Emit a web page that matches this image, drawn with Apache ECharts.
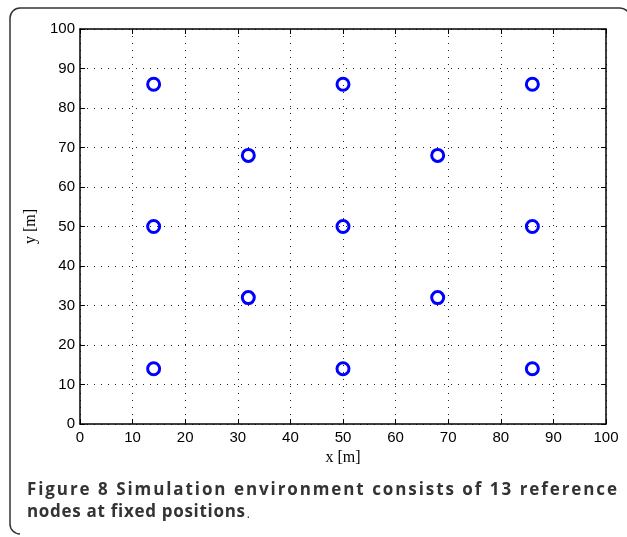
<!DOCTYPE html>
<html>
<head>
<meta charset="utf-8">
<script src="https://cdn.jsdelivr.net/npm/echarts@6/dist/echarts.min.js"></script>
<style>
  html, body { margin: 0; padding: 0; background: #fff; }
  #main { width: 627px; height: 537px; }
</style>
</head>
<body>
<div id="main"></div>
<script>
// reference node positions [m]
var nodeX = [14, 50, 86, 32, 68, 14, 50, 86, 32, 68, 14, 50, 86];
var nodeY = [86, 86, 86, 68, 68, 50, 50, 50, 32, 32, 14, 14, 14];
var tickLabels = [0, 10, 20, 30, 40, 50, 60, 70, 80, 90, 100];

var nodes = nodeX.map(function (x, i) { return [x, nodeY[i]]; });

var chart = echarts.init(document.getElementById('main'));

// caption: two lines, the first justified between the frame margins
var captionLines = [
  { words: ['Figure', '8', 'Simulation', 'environment', 'consists', 'of', '13', 'reference'], y: 490, justify: true, tracking: 1.9 },
  { words: ['nodes', 'at', 'fixed', 'positions'], y: 512, justify: false, tracking: 0.7 }
];
var capLeft = 27, capRight = 617, capSize = 17;

var ctx = document.createElement('canvas').getContext('2d');
ctx.font = 'bold ' + capSize + 'px "Open Sans"';
var captionEls = [];
var lastEnd = 0;
captionLines.forEach(function (ln) {
  var tr = ln.tracking;
  var widths = ln.words.map(function (w) {
    return w.split('').reduce(function (s, ch) { return s + ctx.measureText(ch).width; }, 0) + tr * (w.length - 1);
  });
  var total = widths.reduce(function (a, b) { return a + b; }, 0);
  var gap = ln.justify ? (capRight - capLeft - total) / (ln.words.length - 1) : ctx.measureText(' ').width + tr * 2;
  var x = capLeft;
  ln.words.forEach(function (w) {
    w.split('').forEach(function (ch) {
      captionEls.push({
        type: 'text', x: x, y: ln.y, silent: true,
        style: {
          text: ch, fill: '#333', fontFamily: 'Open Sans', fontWeight: 'bold',
          fontSize: capSize, align: 'left', verticalAlign: 'middle'
        }
      });
      x += ctx.measureText(ch).width + tr;
    });
    x += gap - tr;
  });
  lastEnd = x - gap + tr;
});
captionEls.push({
  type: 'text', x: lastEnd + 1, y: captionLines[1].y + 3, silent: true,
  style: { text: '.', fill: '#333', fontFamily: 'Open Sans', fontSize: 12, align: 'left', verticalAlign: 'middle' }
});

var gridDots = { show: true, lineStyle: { color: '#222', width: 1, type: [1, 6] } };
var tickFmt = function (v) { return tickLabels.indexOf(v) >= 0 ? String(v) : ''; };
var frame = { stroke: '#333', lineWidth: 1.5, fill: null };

var option = {
  animation: false,
  grid: { left: 80, top: 29, right: 21, bottom: 113 },
  xAxis: [
    {
      type: 'value', min: 0, max: 100, interval: 10,
      name: 'x [m]', nameLocation: 'middle', nameGap: 24,
      nameTextStyle: { fontFamily: 'Liberation Serif', fontSize: 16, color: '#000' },
      axisLine: { show: true, onZero: false, lineStyle: { color: '#000', width: 1.5 } },
      axisTick: { show: true, inside: true, length: 5, lineStyle: { color: '#000' } },
      axisLabel: { formatter: tickFmt, margin: 6, fontFamily: 'Liberation Sans', fontSize: 15, color: '#000' },
      splitLine: gridDots
    },
    {
      type: 'value', min: 0, max: 100, interval: 10, position: 'top',
      axisLine: { show: true, onZero: false, lineStyle: { color: '#000', width: 1.5 } },
      axisTick: { show: true, inside: true, length: 5, lineStyle: { color: '#000' } },
      axisLabel: { show: false }, splitLine: { show: false }
    }
  ],
  yAxis: [
    {
      type: 'value', min: 0, max: 100, interval: 10,
      name: 'y [m]', nameLocation: 'middle', nameGap: 35, nameRotate: 90,
      nameTextStyle: { fontFamily: 'Liberation Serif', fontSize: 16, color: '#000' },
      axisLine: { show: true, onZero: false, lineStyle: { color: '#000', width: 1.5 } },
      axisTick: { show: true, inside: true, length: 5, lineStyle: { color: '#000' } },
      axisLabel: { formatter: tickFmt, margin: 5, fontFamily: 'Liberation Sans', fontSize: 15, color: '#000' },
      splitLine: gridDots
    },
    {
      type: 'value', min: 0, max: 100, interval: 10, position: 'right',
      axisLine: { show: true, onZero: false, lineStyle: { color: '#000', width: 1.5 } },
      axisTick: { show: true, inside: true, length: 5, lineStyle: { color: '#000' } },
      axisLabel: { show: false }, splitLine: { show: false }
    }
  ],
  series: [{
    type: 'scatter',
    data: nodes,
    symbol: 'circle',
    symbolSize: 12,
    itemStyle: { color: 'rgba(0,0,0,0)', borderColor: '#0000ff', borderWidth: 3, opacity: 1 },
    emphasis: { disabled: true }
  }],
  graphic: [
    // figure frame, rounded corners, open at the bottom right
    { type: 'line', shape: { x1: 10, y1: 18, x2: 10, y2: 524 }, style: frame },
    { type: 'arc', shape: { cx: 20, cy: 18, r: 10, startAngle: Math.PI, endAngle: Math.PI * 1.5 }, style: frame },
    { type: 'line', shape: { x1: 20, y1: 8, x2: 620, y2: 8 }, style: frame },
    { type: 'arc', shape: { cx: 620, cy: 18, r: 10, startAngle: Math.PI * 1.5, endAngle: Math.PI * 2 }, style: frame },
    { type: 'arc', shape: { cx: 20, cy: 524, r: 10, startAngle: Math.PI * 0.5, endAngle: Math.PI }, style: frame }
  ].concat(captionEls)
};

chart.setOption(option);
</script>
</body>
</html>
